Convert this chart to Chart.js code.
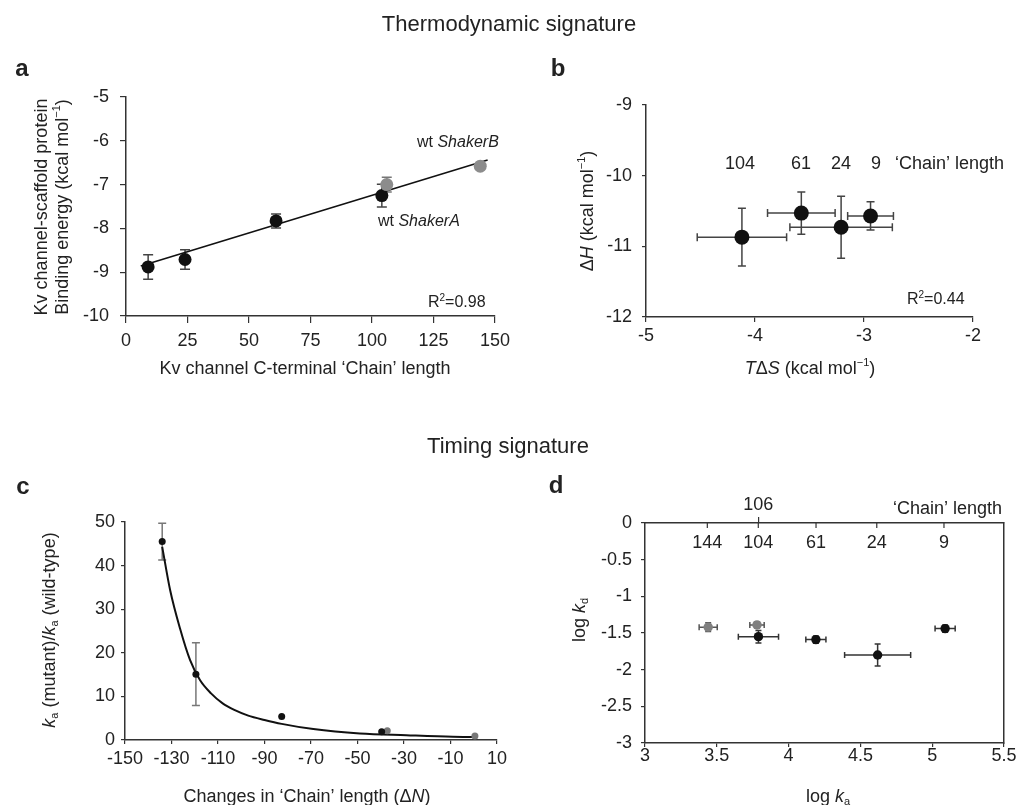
<!DOCTYPE html>
<html>
<head>
<meta charset="utf-8">
<script src="https://cdn.jsdelivr.net/npm/chart.js@4.4.1/dist/chart.umd.min.js"></script>
<style>
  body { margin: 0; background: #fff; width: 1017px; height: 805px; position: relative; overflow: hidden; }
  canvas { position: absolute; left: 0; top: 0; }
</style>
</head>
<body>
<canvas id="chartA" width="1100" height="900"></canvas>
<canvas id="chartB" width="1100" height="900"></canvas>
<canvas id="chartC" width="1100" height="900"></canvas>
<canvas id="chartD" width="1100" height="900"></canvas>
<script>
// ---- a: binding energy vs chain length ----
const aChain = [9, 24, 61, 104];
const aEnergy = [-8.88, -8.71, -7.83, -7.25];
const aEnergyErr = [0.28, 0.22, 0.16, 0.26];
const aWtChain = [106, 144];
const aWtEnergy = [-7.0, -6.58];
const aWtErr = [0.17, 0];
const aFitChain = [6, 147];
const aFitEnergy = [-8.86, -6.44];

// ---- b: enthalpy vs entropy ----
const bTdS = [-4.12, -3.575, -3.21, -2.94];
const bTdSErr = [0.41, 0.31, 0.47, 0.21];
const bDH = [-10.87, -10.53, -10.73, -10.57];
const bDHErr = [0.41, 0.30, 0.44, 0.20];
const bChainLabels = ['104', '61', '24', '9'];

// ---- c: association rate ratio vs change in chain length ----
const cDeltaN = [-134, -119.5, -82.6, -39.6];
const cRatio = [45.5, 15.1, 5.4, 1.9];
const cRatioErr = [4.2, 7.2, 0, 0];
const cWtDeltaN = [-37.2, 0.5];
const cWtRatio = [2.1, 0.9];
const cFitDeltaN = [-134, -130.6, -126.3, -122, -117.7, -113, -108, -103, -97, -90, -82.6, -69, -49, -29, -9, 0.5];
const cFitRatio = [44.3, 34.4, 25.5, 18.3, 13.7, 10.7, 8.4, 6.9, 5.6, 4.6, 3.7, 2.5, 1.5, 1.1, 0.76, 0.7];

// ---- d: log kd vs log ka ----
const dLogKa = [3.79, 4.19, 4.62, 5.09];
const dLogKaErr = [0.14, 0.07, 0.23, 0.07];
const dLogKd = [-1.55, -1.59, -1.80, -1.44];
const dLogKdErr = [0.085, 0.05, 0.15, 0.05];
const dWtLogKa = [3.44, 3.78];
const dWtLogKaErr = [0.063, 0.05];
const dWtLogKd = [-1.42, -1.39];
const dWtLogKdErr = [0.06, 0.04];
const dChainTicks = [3.434, 3.789, 4.191, 4.614, 5.082];
const dChainLabels = ['144', '104', '61', '24', '9'];
const dTopTicks = [3.789];
const dTopLabels = ['106'];

const FONT = '"Liberation Sans", Arial, Helvetica, sans-serif';
Chart.defaults.font.family = FONT;
Chart.defaults.color = '#222';

const CW = 1100, CH = 900, Y_W = 70, X_H = 60;

function pts(xs, ys) {
  return xs.map((x, i) => ({ x: x, y: ys[i] }));
}

function fmt(v) {
  return String(Math.round(v * 100) / 100);
}

// linear axis with its size pinned so the plot area lands where we want it
function axis(min, max, step, tl, pad, horizontal) {
  return {
    type: 'linear', min: min, max: max,
    ticks: { stepSize: step, font: { size: 18 }, color: '#222', padding: pad, maxRotation: 0, autoSkip: false, callback: fmt },
    grid: { drawOnChartArea: false, color: '#333', tickLength: tl, lineWidth: 1.2 },
    border: { color: '#333', width: 1.5 },
    afterFit: s => { if (horizontal) s.height = X_H; else s.width = Y_W; }
  };
}

function area(L, T, R, B, topH) {
  return { padding: { left: L - Y_W, top: T - (topH || 0), right: CW - R, bottom: CH - B - X_H } };
}

// text with italic / sub / superscript pieces
function drawRich(ctx, it, x, y) {
  const size = it.size || 18;
  const segs = it.parts.map(p => {
    const t = Array.isArray(p) ? p[0] : p;
    const st = Array.isArray(p) ? p[1] : '';
    const small = st.includes('sub') || st.includes('sup');
    const fs = small ? Math.round(size * 0.62) : size;
    const font = (st.includes('it') ? 'italic ' : '') + (st.includes('bold') ? 'bold ' : '') + fs + 'px ' + FONT;
    ctx.font = font;
    return { t: t, font: font, w: ctx.measureText(t).width,
      dy: st.includes('sub') ? size * 0.28 : st.includes('sup') ? -size * 0.32 : 0 };
  });
  const total = segs.reduce((a, s) => a + s.w, 0);
  ctx.save();
  ctx.translate(x, y);
  if (it.rot) ctx.rotate(-Math.PI / 2);
  let cx = it.align === 'left' ? 0 : it.align === 'right' ? -total : -total / 2;
  ctx.fillStyle = it.color || '#222';
  ctx.textBaseline = 'middle';
  ctx.textAlign = 'left';
  segs.forEach(s => { ctx.font = s.font; ctx.fillText(s.t, cx, s.dy); cx += s.w; });
  ctx.restore();
}

const richText = {
  id: 'richText',
  afterDraw(chart, args, opts) {
    (opts.items || []).forEach(it => drawRich(chart.ctx, it, it.x, it.y));
  }
};

const errorBars = {
  id: 'errorBars',
  beforeDatasetsDraw(chart, args, opts) {
    const { ctx, scales: { x, y } } = chart;
    (opts.sets || []).forEach(s => {
      const ds = chart.data.datasets[s.dataset];
      const cap = s.cap || 4;
      ctx.save();
      ctx.strokeStyle = s.color || '#333';
      ctx.lineWidth = s.width || 1.5;
      ds.data.forEach((p, i) => {
        const px = x.getPixelForValue(p.x), py = y.getPixelForValue(p.y);
        ctx.beginPath();
        if (s.yErr && s.yErr[i]) {
          const y1 = y.getPixelForValue(p.y + s.yErr[i]), y2 = y.getPixelForValue(p.y - s.yErr[i]);
          ctx.moveTo(px, y1); ctx.lineTo(px, y2);
          ctx.moveTo(px - cap, y1); ctx.lineTo(px + cap, y1);
          ctx.moveTo(px - cap, y2); ctx.lineTo(px + cap, y2);
        }
        if (s.xErr && s.xErr[i]) {
          const x1 = x.getPixelForValue(p.x - s.xErr[i]), x2 = x.getPixelForValue(p.x + s.xErr[i]);
          ctx.moveTo(x1, py); ctx.lineTo(x2, py);
          ctx.moveTo(x1, py - cap); ctx.lineTo(x1, py + cap);
          ctx.moveTo(x2, py - cap); ctx.lineTo(x2, py + cap);
        }
        ctx.stroke();
      });
      ctx.restore();
    });
  }
};

// inward ticks + labels under the top axis of panel d
const chainAxis = {
  id: 'chainAxis',
  afterDatasetsDraw(chart, args, opts) {
    if (!opts.values) return;
    const { ctx, chartArea, scales: { x } } = chart;
    ctx.save();
    ctx.strokeStyle = '#333';
    ctx.lineWidth = 1.2;
    ctx.fillStyle = '#222';
    ctx.font = '18px ' + FONT;
    ctx.textAlign = 'center';
    ctx.textBaseline = 'middle';
    opts.values.forEach((v, i) => {
      const px = x.getPixelForValue(v);
      ctx.beginPath();
      ctx.moveTo(px, chartArea.top);
      ctx.lineTo(px, chartArea.top + opts.tickLength);
      ctx.stroke();
      ctx.fillText(opts.labels[i], px, chartArea.top + opts.labelOffset);
    });
    ctx.restore();
  }
};

Chart.register(richText, errorBars, chainAxis);

const base = {
  responsive: false,
  animation: false,
  events: []
};

// ---------- panel a ----------
new Chart(document.getElementById('chartA'), {
  type: 'scatter',
  data: {
    datasets: [
      { data: pts(aWtChain, aWtEnergy), backgroundColor: '#8c8c8c', borderWidth: 0, pointRadius: 6.5 },
      { data: pts(aChain, aEnergy), backgroundColor: '#111', borderWidth: 0, pointRadius: 6.5 },
      { data: pts(aFitChain, aFitEnergy), showLine: true, borderColor: '#111', borderWidth: 1.6, pointRadius: 0 }
    ]
  },
  options: Object.assign({}, base, {
    layout: area(126, 97, 495, 316),
    scales: { x: axis(0, 150, 25, 7, 7, true), y: axis(-10, -5, 1, 6, 11, false) },
    plugins: {
      legend: { display: false }, tooltip: { enabled: false },
      errorBars: { sets: [
        { dataset: 1, yErr: aEnergyErr, color: '#444', cap: 5 },
        { dataset: 0, yErr: aWtErr, color: '#777', cap: 5 }
      ] },
      richText: { items: [
        { parts: ['Thermodynamic signature'], x: 509, y: 25, size: 22 },
        { parts: [['a', 'bold']], x: 22, y: 69, size: 24 },
        { parts: ['Kv channel-scaffold protein'], x: 42, y: 207, rot: true },
        { parts: ['Binding energy (kcal mol', ['−1', 'sup'], ')'], x: 63, y: 207, rot: true },
        { parts: ['Kv channel C-terminal ‘Chain’ length'], x: 305, y: 369 },
        { parts: ['wt ', ['ShakerB', 'it']], x: 417, y: 143, align: 'left', size: 16 },
        { parts: ['wt ', ['ShakerA', 'it']], x: 378, y: 222, align: 'left', size: 16 },
        { parts: ['R', ['2', 'sup'], '=0.98'], x: 428, y: 303, align: 'left', size: 16 }
      ] }
    }
  })
});

// ---------- panel b ----------
new Chart(document.getElementById('chartB'), {
  type: 'scatter',
  data: {
    datasets: [
      { data: pts(bTdS, bDH), backgroundColor: '#111', borderWidth: 0, pointRadius: 7.5 }
    ]
  },
  options: Object.assign({}, base, {
    layout: area(646, 105, 973, 317),
    scales: { x: axis(-5, -2, 1, 5, 3, true), y: axis(-12, -9, 1, 4, 10, false) },
    plugins: {
      legend: { display: false }, tooltip: { enabled: false },
      errorBars: { sets: [{ dataset: 0, xErr: bTdSErr, yErr: bDHErr, color: '#444', cap: 4 }] },
      richText: { items: [
        { parts: [['b', 'bold']], x: 558, y: 69, size: 24 },
        { parts: ['Δ', ['H', 'it'], ' (kcal mol', ['−1', 'sup'], ')'], x: 588, y: 211, rot: true },
        { parts: [['T', 'it'], 'Δ', ['S', 'it'], ' (kcal mol', ['−1', 'sup'], ')'], x: 810, y: 369 },
        { parts: [bChainLabels[0]], x: 740, y: 164 },
        { parts: [bChainLabels[1]], x: 801, y: 164 },
        { parts: [bChainLabels[2]], x: 841, y: 164 },
        { parts: [bChainLabels[3]], x: 876, y: 164 },
        { parts: ['‘Chain’ length'], x: 895, y: 164, align: 'left' },
        { parts: ['R', ['2', 'sup'], '=0.44'], x: 907, y: 300, align: 'left', size: 16 }
      ] }
    }
  })
});

// ---------- panel c ----------
new Chart(document.getElementById('chartC'), {
  type: 'scatter',
  data: {
    datasets: [
      { data: pts(cDeltaN, cRatio), backgroundColor: '#111', borderWidth: 0, pointRadius: 3.5 },
      { data: pts(cWtDeltaN, cWtRatio), backgroundColor: '#777', borderWidth: 0, pointRadius: 3.5 },
      { data: pts(cFitDeltaN, cFitRatio), showLine: true, cubicInterpolationMode: 'monotone',
        borderColor: '#111', borderWidth: 2, pointRadius: 0 }
    ]
  },
  options: Object.assign({}, base, {
    layout: area(125, 522, 497, 740),
    scales: { x: axis(-150, 10, 20, 4, 4, true), y: axis(0, 50, 10, 4, 6, false) },
    plugins: {
      legend: { display: false }, tooltip: { enabled: false },
      errorBars: { sets: [{ dataset: 0, yErr: cRatioErr, color: '#777', cap: 4 }] },
      richText: { items: [
        { parts: ['Timing signature'], x: 508, y: 447, size: 22 },
        { parts: [['c', 'bold']], x: 23, y: 487, size: 24 },
        { parts: [['k', 'it'], ['a', 'sub'], ' (mutant)/', ['k', 'it'], ['a', 'sub'], ' (wild-type)'], x: 50, y: 630, rot: true },
        { parts: ['Changes in ‘Chain’ length (Δ', ['N', 'it'], ')'], x: 307, y: 797 }
      ] }
    }
  })
});

// ---------- panel d ----------
const dScales = {
  x: axis(3, 5.5, 0.5, 4, -2, true),
  y: axis(-3, 0, 0.5, 4, 9, false),
  x2: {
    type: 'linear', position: 'top', min: 3, max: 5.5,
    afterBuildTicks: s => { s.ticks = dTopTicks.map(v => ({ value: v })); },
    ticks: { font: { size: 18 }, color: '#222', padding: 1, autoSkip: false, maxRotation: 0,
      callback: (v, i) => dTopLabels[i] },
    grid: { drawOnChartArea: false, color: '#333', tickLength: 6, lineWidth: 1.2 },
    border: { color: '#333', width: 1.5 },
    afterFit: s => { s.height = 40; }
  },
  y2: {
    type: 'linear', position: 'right', min: -3, max: 0,
    ticks: { display: false },
    grid: { drawOnChartArea: false, drawTicks: false },
    border: { color: '#333', width: 1.5 },
    afterFit: s => { s.width = 0; }
  }
};

new Chart(document.getElementById('chartD'), {
  type: 'scatter',
  data: {
    datasets: [
      { data: pts(dLogKa, dLogKd), backgroundColor: '#111', borderWidth: 0, pointRadius: 4.7 },
      { data: pts(dWtLogKa, dWtLogKd), backgroundColor: '#808080', borderWidth: 0, pointRadius: 4.7 }
    ]
  },
  options: Object.assign({}, base, {
    layout: area(645, 523, 1004, 743, 40),
    scales: dScales,
    plugins: {
      legend: { display: false }, tooltip: { enabled: false },
      errorBars: { sets: [
        { dataset: 0, xErr: dLogKaErr, yErr: dLogKdErr, color: '#333', cap: 3 },
        { dataset: 1, xErr: dWtLogKaErr, yErr: dWtLogKdErr, color: '#555', cap: 3 }
      ] },
      chainAxis: { values: dChainTicks, labels: dChainLabels, tickLength: 5, labelOffset: 20 },
      richText: { items: [
        { parts: [['d', 'bold']], x: 556, y: 486, size: 24 },
        { parts: ['log ', ['k', 'it'], ['d', 'sub']], x: 580, y: 620, rot: true },
        { parts: ['log ', ['k', 'it'], ['a', 'sub']], x: 828, y: 797 },
        { parts: ['‘Chain’ length'], x: 1002, y: 509, align: 'right' }
      ] }
    }
  })
});
</script>
</body>
</html>
